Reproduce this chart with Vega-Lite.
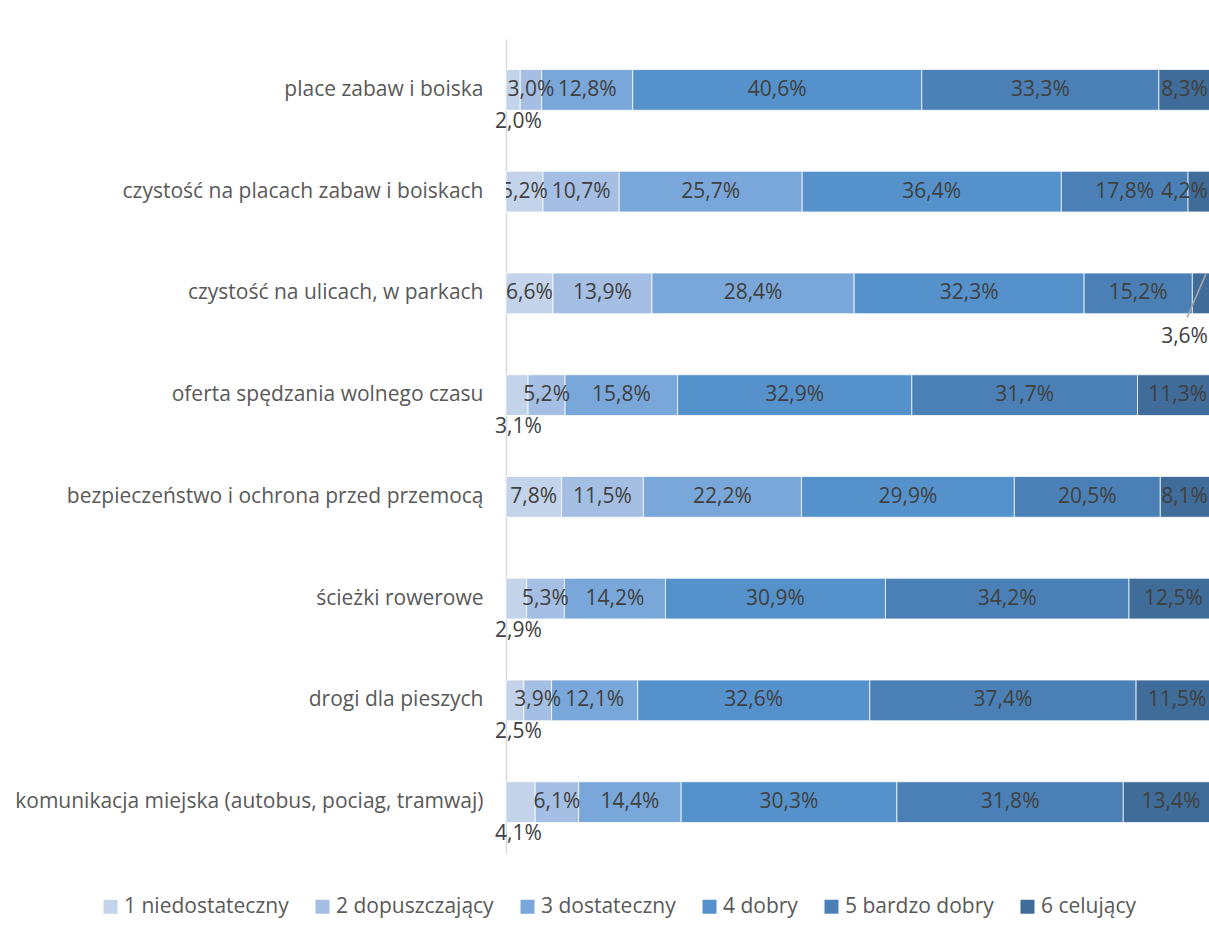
{
  "$schema": "https://vega.github.io/schema/vega-lite/v6.json",
  "width": 703,
  "height": 814,
  "autosize": {"type": "none"},
  "padding": {"left": 506, "top": 39, "right": 0, "bottom": 85},
  "background": "white",
  "config": {"view": {"stroke": null}, "font": "Open Sans"},
  "data": {"values": [
    {"cat": "place zabaw i boiska", "s": "1 niedostateczny", "v": 2.0},
    {"cat": "place zabaw i boiska", "s": "2 dopuszczający", "v": 3.0},
    {"cat": "place zabaw i boiska", "s": "3 dostateczny", "v": 12.8},
    {"cat": "place zabaw i boiska", "s": "4 dobry", "v": 40.6},
    {"cat": "place zabaw i boiska", "s": "5 bardzo dobry", "v": 33.3},
    {"cat": "place zabaw i boiska", "s": "6 celujący", "v": 8.3},
    {"cat": "czystość na placach zabaw i boiskach", "s": "1 niedostateczny", "v": 5.2},
    {"cat": "czystość na placach zabaw i boiskach", "s": "2 dopuszczający", "v": 10.7},
    {"cat": "czystość na placach zabaw i boiskach", "s": "3 dostateczny", "v": 25.7},
    {"cat": "czystość na placach zabaw i boiskach", "s": "4 dobry", "v": 36.4},
    {"cat": "czystość na placach zabaw i boiskach", "s": "5 bardzo dobry", "v": 17.8},
    {"cat": "czystość na placach zabaw i boiskach", "s": "6 celujący", "v": 4.2},
    {"cat": "czystość na ulicach, w parkach", "s": "1 niedostateczny", "v": 6.6},
    {"cat": "czystość na ulicach, w parkach", "s": "2 dopuszczający", "v": 13.9},
    {"cat": "czystość na ulicach, w parkach", "s": "3 dostateczny", "v": 28.4},
    {"cat": "czystość na ulicach, w parkach", "s": "4 dobry", "v": 32.3},
    {"cat": "czystość na ulicach, w parkach", "s": "5 bardzo dobry", "v": 15.2},
    {"cat": "czystość na ulicach, w parkach", "s": "6 celujący", "v": 3.6},
    {"cat": "oferta spędzania wolnego czasu", "s": "1 niedostateczny", "v": 3.1},
    {"cat": "oferta spędzania wolnego czasu", "s": "2 dopuszczający", "v": 5.2},
    {"cat": "oferta spędzania wolnego czasu", "s": "3 dostateczny", "v": 15.8},
    {"cat": "oferta spędzania wolnego czasu", "s": "4 dobry", "v": 32.9},
    {"cat": "oferta spędzania wolnego czasu", "s": "5 bardzo dobry", "v": 31.7},
    {"cat": "oferta spędzania wolnego czasu", "s": "6 celujący", "v": 11.3},
    {"cat": "bezpieczeństwo i ochrona przed przemocą", "s": "1 niedostateczny", "v": 7.8},
    {"cat": "bezpieczeństwo i ochrona przed przemocą", "s": "2 dopuszczający", "v": 11.5},
    {"cat": "bezpieczeństwo i ochrona przed przemocą", "s": "3 dostateczny", "v": 22.2},
    {"cat": "bezpieczeństwo i ochrona przed przemocą", "s": "4 dobry", "v": 29.9},
    {"cat": "bezpieczeństwo i ochrona przed przemocą", "s": "5 bardzo dobry", "v": 20.5},
    {"cat": "bezpieczeństwo i ochrona przed przemocą", "s": "6 celujący", "v": 8.1},
    {"cat": "ścieżki rowerowe", "s": "1 niedostateczny", "v": 2.9},
    {"cat": "ścieżki rowerowe", "s": "2 dopuszczający", "v": 5.3},
    {"cat": "ścieżki rowerowe", "s": "3 dostateczny", "v": 14.2},
    {"cat": "ścieżki rowerowe", "s": "4 dobry", "v": 30.9},
    {"cat": "ścieżki rowerowe", "s": "5 bardzo dobry", "v": 34.2},
    {"cat": "ścieżki rowerowe", "s": "6 celujący", "v": 12.5},
    {"cat": "drogi dla pieszych", "s": "1 niedostateczny", "v": 2.5},
    {"cat": "drogi dla pieszych", "s": "2 dopuszczający", "v": 3.9},
    {"cat": "drogi dla pieszych", "s": "3 dostateczny", "v": 12.1},
    {"cat": "drogi dla pieszych", "s": "4 dobry", "v": 32.6},
    {"cat": "drogi dla pieszych", "s": "5 bardzo dobry", "v": 37.4},
    {"cat": "drogi dla pieszych", "s": "6 celujący", "v": 11.5},
    {"cat": "komunikacja miejska (autobus, pociag, tramwaj)", "s": "1 niedostateczny", "v": 4.1},
    {"cat": "komunikacja miejska (autobus, pociag, tramwaj)", "s": "2 dopuszczający", "v": 6.1},
    {"cat": "komunikacja miejska (autobus, pociag, tramwaj)", "s": "3 dostateczny", "v": 14.4},
    {"cat": "komunikacja miejska (autobus, pociag, tramwaj)", "s": "4 dobry", "v": 30.3},
    {"cat": "komunikacja miejska (autobus, pociag, tramwaj)", "s": "5 bardzo dobry", "v": 31.8},
    {"cat": "komunikacja miejska (autobus, pociag, tramwaj)", "s": "6 celujący", "v": 13.4}
  ]},
  "transform": [
    {"stack": "v", "groupby": ["cat"], "sort": [{"field": "s", "order": "ascending"}], "as": ["x0", "x1"]},
    {"calculate": "(datum.x0 + datum.x1) / 2", "as": "mid"},
    {"calculate": "replace(format(datum.v, '.1f'), '.', ',') + '%'", "as": "label"},
    {"calculate": "substring(datum.s, 0, 1)", "as": "k"}
  ],
  "encoding": {
    "y": {
      "field": "cat",
      "type": "nominal",
      "sort": ["place zabaw i boiska", "czystość na placach zabaw i boiskach", "czystość na ulicach, w parkach", "oferta spędzania wolnego czasu", "bezpieczeństwo i ochrona przed przemocą", "ścieżki rowerowe", "drogi dla pieszych", "komunikacja miejska (autobus, pociag, tramwaj)"],
      "scale": {"paddingInner": 0.6, "paddingOuter": 0.3},
      "axis": {
        "title": null,
        "ticks": false,
        "labelPadding": 23,
        "labelFontSize": 21,
        "labelColor": "#595959",
        "labelFont": "Open Sans",
        "domainColor": "#d9d9d9",
        "domainWidth": 1.5,
        "labelLimit": 600
      }
    }
  },
  "layer": [
    {
      "mark": {"type": "bar", "clip": true, "stroke": "white", "strokeWidth": 0.75},
      "encoding": {
        "x": {"field": "x0", "type": "quantitative", "scale": {"domain": [0, 98.74], "nice": false, "zero": false}, "axis": null},
        "x2": {"field": "x1"},
        "color": {
          "field": "s",
          "type": "nominal",
          "scale": {
            "domain": ["1 niedostateczny", "2 dopuszczający", "3 dostateczny", "4 dobry", "5 bardzo dobry", "6 celujący"],
            "range": ["#c3d4ea", "#a4bfe3", "#7aa7d9", "#5592cc", "#4a80b5", "#3f6c98"]
          },
          "legend": {
            "title": null,
            "orient": "none",
            "direction": "horizontal",
            "legendX": -406,
            "legendY": 857,
            "padding": 0,
            "symbolType": "square",
            "symbolSize": 196,
            "symbolStrokeWidth": 0,
            "labelFontSize": 21,
            "labelColor": "#595959",
            "labelFont": "Open Sans",
            "labelOffset": 3,
            "columnPadding": 23,
            "labelLimit": 300
          }
        }
      }
    },
    {
      "transform": [{"filter": "!(datum.k == '1' && datum.v < 5) && !(datum.k == '6' && datum.v < 9)"}],
      "mark": {"type": "text", "clip": true, "fontSize": 21, "color": "#404040", "align": "center", "baseline": "middle"},
      "encoding": {
        "x": {"field": "mid", "type": "quantitative"},
        "text": {"field": "label"}
      }
    },
    {
      "transform": [{"filter": "datum.k == '1' && datum.v < 5"}],
      "mark": {"type": "text", "fontSize": 21, "color": "#404040", "align": "left", "baseline": "middle", "dx": -11, "dy": 32},
      "encoding": {
        "x": {"field": "x0", "type": "quantitative"},
        "text": {"field": "label"}
      }
    },
    {
      "transform": [{"filter": "datum.k == '6' && datum.v < 9 && datum.cat != 'czystość na ulicach, w parkach'"}],
      "mark": {"type": "text", "clip": true, "fontSize": 21, "color": "#404040", "align": "right", "baseline": "middle", "dx": -10},
      "encoding": {
        "x": {"field": "x1", "type": "quantitative"},
        "text": {"field": "label"}
      }
    },
    {
      "transform": [{"filter": "datum.k == '6' && datum.cat == 'czystość na ulicach, w parkach'"}],
      "mark": {"type": "text", "clip": true, "fontSize": 21, "color": "#404040", "align": "right", "baseline": "middle", "dx": -10, "dy": 44},
      "encoding": {
        "x": {"field": "x1", "type": "quantitative"},
        "text": {"field": "label"}
      }
    },
    {
      "transform": [{"filter": "datum.k == '6' && datum.cat == 'czystość na ulicach, w parkach'"}],
      "mark": {"type": "rule", "clip": true, "color": "#a6a6a6", "strokeWidth": 1.5, "xOffset": -18, "yOffset": 24, "x2Offset": 1, "y2Offset": -20},
      "encoding": {
        "x": {"field": "mid", "type": "quantitative"},
        "x2": {"field": "mid"},
        "y": {"field": "cat", "type": "nominal", "bandPosition": 0.5, "sort": ["place zabaw i boiska", "czystość na placach zabaw i boiskach", "czystość na ulicach, w parkach", "oferta spędzania wolnego czasu", "bezpieczeństwo i ochrona przed przemocą", "ścieżki rowerowe", "drogi dla pieszych", "komunikacja miejska (autobus, pociag, tramwaj)"]},
        "y2": {"field": "cat", "bandPosition": 0.5}
      }
    }
  ]
}
